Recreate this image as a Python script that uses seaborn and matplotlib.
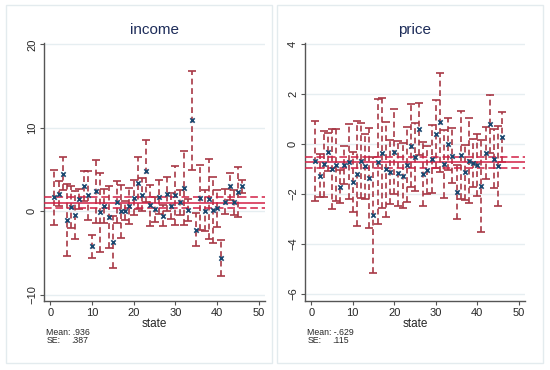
import numpy as np
import pandas as pd
import matplotlib
matplotlib.use("Agg")
import matplotlib.pyplot as plt
import seaborn as sns

states = list(range(1, 47))

income = [1.7, 2.1, 4.5, -1.0, 0.56, -0.44, 1.5, 3.0, 1.9, -4.2,
          2.4, -0.1, 0.64, -0.64, -3.7, 1.1, 0.0, 0.1, 0.64, 1.64,
          3.4, 2.0, 4.8, 0.7, 0.24, 1.7, -0.5, 2.1, 0.64, 1.9,
          1.1, 2.8, 0.2, 10.9, -2.2, 1.64, 0.1, 1.5, 0.16, 0.36,
          -5.6, 1.16, 3.0, 1.1, 2.3, 3.0]
income_ci = [3.3, 1.5, 2.0, 4.3, 2.5, 2.9, 1.2, 1.8, 2.9, 1.35,
             3.8, 4.75, 2.0, 3.7, 3.1, 2.5, 3.2, 1.1, 2.2, 2.1,
             3.1, 2.0, 3.7, 2.5, 1.5, 2.0, 1.2, 2.0, 1.6, 3.5,
             1.5, 4.4, 1.3, 5.9, 2.0, 3.9, 2.5, 4.8, 4.0, 2.2,
             2.2, 1.5, 1.6, 1.5, 3.0, 0.8]

price = [-0.68, -1.27, -0.81, -0.33, -1.01, -0.84, -1.71, -0.84, -0.71, -1.53,
         -1.2, -0.68, -0.9, -1.37, -2.84, -0.71, -0.37, -1.01, -1.13, -0.31,
         -1.17, -1.27, -0.84, -0.07, -0.53, 0.59, -1.2, -1.04, -0.61, 0.4,
         0.87, -0.81, 0.0, -0.47, -1.93, -0.44, -1.13, -0.68, -0.75, -0.84,
         -1.68, -0.37, 0.79, -0.6, -0.87, 0.29]
price_ci = [1.6, 0.85, 1.33, 0.75, 1.6, 1.45, 0.65, 0.75, 1.5, 1.2,
            2.1, 1.5, 1.3, 2.0, 2.33, 2.5, 2.2, 1.9, 1.28, 1.7,
            1.3, 1.3, 1.5, 1.67, 1.37, 1.04, 1.27, 0.97, 1.36, 1.36,
            1.98, 1.36, 1.03, 1.1, 1.07, 1.76, 1.1, 1.7, 0.96, 1.25,
            1.83, 1.05, 1.17, 1.18, 1.6, 1.0]

titles = ["income", "price"]
mean_txt = [".936", "-.629"]
se_txt = [".387", ".115"]
# reference lines as drawn: centre and half-width of the band
line_mid = [1.02, -0.74]
line_half = [0.68, 0.21]
yticks = [[-10, 0, 10, 20], [-6, -4, -2, 0, 2, 4]]
ylims = [(-10.74, 20.2), (-6.28, 4.05)]

sns.set_style("white")
plt.rcParams["font.family"] = ["Liberation Sans", "DejaVu Sans"]

navy = "#1a476f"
maroon = "#a83846"
red = "#d21f45"
gridc = "#e6eef1"

fig = plt.figure(figsize=(5.5, 3.7), dpi=100)

# light outer boxes of the two sub-graphs
for x0 in [6 / 550, 277 / 550]:
    fig.patches.append(plt.Rectangle((x0, 7 / 370), 266 / 550, 358 / 370,
                                     transform=fig.transFigure, fill=False,
                                     edgecolor="#e3ebee", linewidth=1))

axes = [fig.add_axes([44 / 550, 69 / 370, 221 / 550, 258.3 / 370]),
        fig.add_axes([305 / 550, 69 / 370, 220 / 550, 258.3 / 370])]

data = [(income, income_ci), (price, price_ci)]

for i, ax in enumerate(axes):
    vals, ci = data[i]
    df = pd.DataFrame({"state": states, "b": vals, "ci": ci})
    ax.set_xlim(-1.5, 51.5)
    ax.set_ylim(*ylims[i])
    ax.set_yticks(yticks[i])
    ax.set_xticks([0, 10, 20, 30, 40, 50])
    ax.grid(axis="y", color=gridc, linewidth=1)
    ax.set_axisbelow(True)

    eb = ax.errorbar(df["state"], df["b"], yerr=df["ci"], fmt="none",
                     ecolor=maroon, elinewidth=1.2, capsize=2.6, capthick=1.2,
                     zorder=2)
    eb[2][0].set_linestyle((0, (3.5, 2.2)))

    m, h = line_mid[i], line_half[i]
    ax.axhline(m, color=red, linewidth=1.1, zorder=3)
    ax.axhline(m - h, color=red, linewidth=1.1, linestyle=(0, (5, 2.5)), zorder=3)
    ax.axhline(m + h, color=red, linewidth=1.1, linestyle=(0, (5, 2.5)), zorder=3)

    sns.scatterplot(data=df, x="state", y="b", marker="x", color=navy, s=10,
                    linewidth=1.2, ax=ax, zorder=4)

    for sp in ["top", "right"]:
        ax.spines[sp].set_visible(False)
    for sp in ["left", "bottom"]:
        ax.spines[sp].set_color("#555555")
        ax.spines[sp].set_linewidth(1)
    ax.tick_params(axis="both", direction="out", length=3, width=0.8,
                   color="#555555", labelsize=8, pad=2, left=True, bottom=True)
    for lab in ax.get_yticklabels():
        lab.set_rotation(90)
        lab.set_va("center")
    ax.set_xlabel("state", fontsize=8.5, labelpad=0)
    ax.set_ylabel("")
    ax.set_title(titles[i], fontsize=11, color="#1e2d5a", pad=6)

    ax.text(0.01, -0.105, "Mean: " + mean_txt[i], transform=ax.transAxes,
            fontsize=6.3, va="top", ha="left")
    ax.text(0.01, -0.137, "SE:", transform=ax.transAxes,
            fontsize=6.3, va="top", ha="left")
    ax.text(0.123, -0.137, se_txt[i], transform=ax.transAxes,
            fontsize=6.3, va="top", ha="left")

plt.savefig("out.png", dpi=100)
